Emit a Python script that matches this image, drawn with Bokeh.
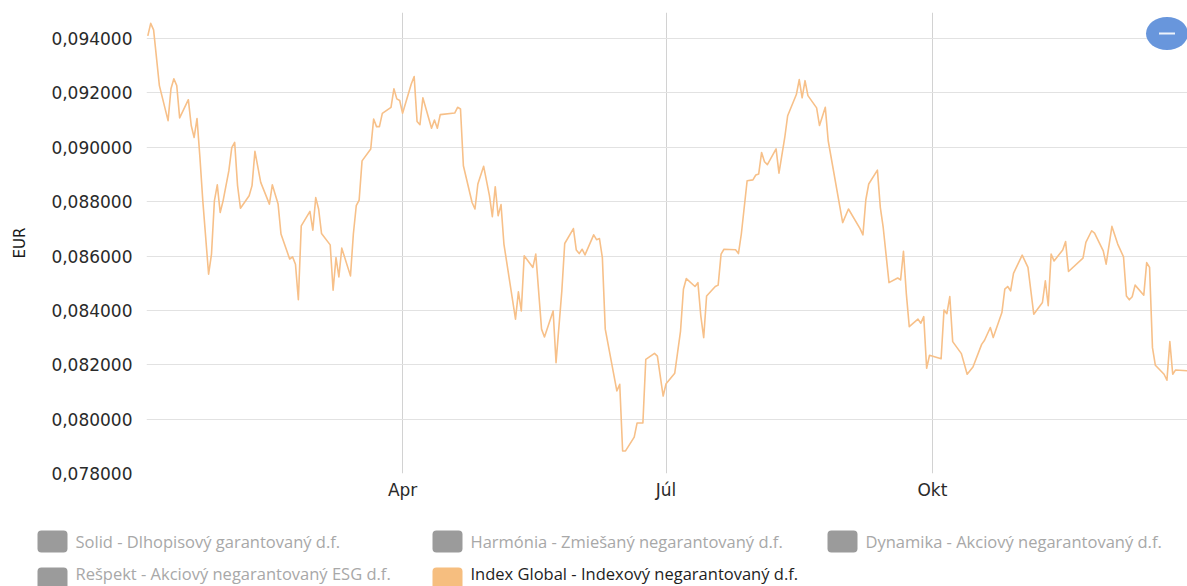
import pandas as pd
from bokeh.plotting import figure
from bokeh.models import Range1d, FixedTicker, CustomJSTickFormatter
from bokeh.core.properties import value
from bokeh.embed import file_html
from bokeh.resources import INLINE

# ---------------- data ----------------
YEAR_START = "2022-01-01"

day_offsets = [2, 3, 4, 6, 9, 10, 11, 12, 13, 16, 17, 18, 19, 20, 21, 23, 24, 25, 26, 27, 28,
               30, 31, 32, 33, 34, 37, 38, 39, 41, 44, 45, 47, 48, 51, 52, 53, 54, 55, 58, 59,
               60, 61, 62, 65, 66, 67, 68, 69, 72, 73, 74, 75, 76, 79, 80, 81, 82, 83, 86, 87,
               88, 89, 90, 93, 94, 95, 96, 97, 100, 101, 102, 103, 108, 109, 110, 111, 114, 115,
               116, 118, 120, 121, 122, 123, 124, 125, 129, 130, 131, 132, 135, 136, 138, 139,
               142, 143, 145, 146, 149, 150, 151, 152, 153, 156, 157, 158, 159, 160, 164, 165,
               166, 167, 170, 171, 173, 174, 177, 178, 180, 181, 184, 186, 187, 188, 191, 192,
               193, 194, 195, 198, 199, 200, 201, 205, 206, 207, 209, 211, 212, 213, 214, 215,
               216, 219, 220, 222, 223, 226, 227, 228, 229, 230, 233, 234, 236, 237, 242, 244,
               248, 249, 250, 251, 254, 255, 256, 258, 261, 262, 263, 264, 265, 268, 269, 270,
               271, 272, 276, 277, 278, 279, 280, 283, 285, 287, 290, 291, 293, 294, 297, 298,
               299, 300, 301, 304, 306, 308, 311, 312, 313, 314, 315, 318, 319, 320, 325, 326,
               328, 329, 332, 333, 335, 337, 339, 340, 341, 342, 343, 346, 347, 348, 349, 350,
               353, 354, 355, 356, 357, 361]

index_global = [0.0941, 0.09456, 0.09432, 0.09227, 0.09098, 0.09215, 0.09252, 0.09227, 0.09108,
                0.09175, 0.0908, 0.09036, 0.09106, 0.08963, 0.08803, 0.08533, 0.08607, 0.08803,
                0.08862, 0.0876, 0.08803, 0.08914, 0.08999, 0.09018, 0.08859, 0.08776, 0.08822,
                0.08859, 0.08985, 0.08871, 0.08791, 0.08862, 0.08791, 0.08681, 0.08589, 0.08597,
                0.0857, 0.08439, 0.08711, 0.08764, 0.08695, 0.08815, 0.08773, 0.08683, 0.08641,
                0.08474, 0.08594, 0.08523, 0.08629, 0.08527, 0.08681, 0.08785, 0.08806, 0.0895,
                0.08994, 0.09104, 0.09076, 0.09076, 0.09125, 0.09147, 0.09215, 0.09178, 0.09172,
                0.09125, 0.09233, 0.0926, 0.09095, 0.09083, 0.09182, 0.0907, 0.091, 0.0907,
                0.0912, 0.09126, 0.09147, 0.09141, 0.08932, 0.08797, 0.08773, 0.08865, 0.0893,
                0.08822, 0.08745, 0.08855, 0.08748, 0.08789, 0.08644, 0.08368, 0.08468, 0.08398,
                0.08601, 0.08558, 0.08607, 0.08331, 0.08302, 0.08398, 0.08208, 0.08472, 0.08646,
                0.08701, 0.08622, 0.08609, 0.08625, 0.08604, 0.08678, 0.0866, 0.08664, 0.08594,
                0.08331, 0.08104, 0.08128, 0.07883, 0.07883, 0.07934, 0.07986, 0.07986, 0.0822,
                0.08242, 0.08232, 0.08085, 0.0813, 0.08169, 0.08324, 0.08478, 0.08517, 0.08488,
                0.08502, 0.0838, 0.083, 0.08453, 0.08488, 0.08493, 0.08607, 0.08625, 0.08623,
                0.08609, 0.08681, 0.08877, 0.0888, 0.08898, 0.08902, 0.08981, 0.08947, 0.08936,
                0.08994, 0.08905, 0.09036, 0.09116, 0.09194, 0.09249, 0.09182, 0.09245, 0.0919,
                0.09145, 0.0908, 0.09147, 0.09024, 0.08723, 0.08773, 0.08701, 0.08678, 0.08807,
                0.08865, 0.08916, 0.08779, 0.08705, 0.08502, 0.08519, 0.08512, 0.08617, 0.0846,
                0.0834, 0.08368, 0.08353, 0.08377, 0.08187, 0.08235, 0.08222, 0.08401, 0.08388,
                0.08451, 0.08285, 0.08241, 0.08165, 0.08192, 0.08275, 0.0829, 0.08337, 0.083,
                0.08392, 0.08478, 0.08488, 0.08472, 0.08536, 0.08603, 0.08558, 0.08386, 0.08429,
                0.08509, 0.08417, 0.08607, 0.08582, 0.08622, 0.08653, 0.08543, 0.08592, 0.0865,
                0.08693, 0.08684, 0.08619, 0.0857, 0.08709, 0.08644, 0.08597, 0.08453, 0.08439,
                0.0845, 0.08493, 0.08456, 0.08576, 0.08558, 0.08263, 0.08198, 0.08165, 0.08143,
                0.08285, 0.08165, 0.08181, 0.08178]

y_ticks = [0.078, 0.080, 0.082, 0.084, 0.086, 0.088, 0.090, 0.092, 0.094]
x_tick_dates = ["2022-04-01", "2022-07-01", "2022-10-01"]
month_labels = ["Jan", "Feb", "Mar", "Apr", "Máj", "Jún", "Júl", "Aug", "Sep", "Okt", "Nov", "Dec"]

series_names = ["Solid - Dlhopisový garantovaný d.f.",
                "Harmónia - Zmiešaný negarantovaný d.f.",
                "Dynamika - Akciový negarantovaný d.f.",
                "Rešpekt - Akciový negarantovaný ESG d.f.",
                "Index Global - Indexový negarantovaný d.f."]
series_active = [False, False, False, False, True]

# ---------------- styles ----------------
LINE_COLOR = "#f7c089"
SWATCH_ACTIVE = "#f6be7f"
SWATCH_INACTIVE = "#9b9b9b"
TEXT_ACTIVE = "#1e1e1e"
TEXT_INACTIVE = "#a8a8a8"

DAY_MS = 86400000.0


def ms(ts):
    return pd.Timestamp(ts).value / 1e6


dates = pd.Timestamp(YEAR_START) + pd.to_timedelta(day_offsets, unit="D")

x_start = ms(YEAR_START) + 1.55 * DAY_MS
x_end = ms(YEAR_START) + 361.1 * DAY_MS
y_start, y_end = 0.078, 0.094958

FRAME_W, FRAME_H = 1041, 461

p = figure(width=1187, height=513, x_axis_type="datetime",
           x_range=Range1d(x_start, x_end), y_range=Range1d(y_start, y_end),
           output_backend="svg", toolbar_location=None,
           min_border_left=146, min_border_right=0, min_border_top=12, min_border_bottom=40)
p.outline_line_color = None
p.background_fill_color = "white"
p.border_fill_color = "white"

p.line(dates, index_global, line_color=LINE_COLOR, line_width=1.6, line_join="round")

# y axis
yt = FixedTicker(ticks=y_ticks)
p.yaxis.ticker = yt
p.ygrid.ticker = yt
p.yaxis.formatter = CustomJSTickFormatter(code="return tick.toFixed(6).replace('.', ',');")
p.yaxis.axis_label = "EUR"
p.yaxis.axis_label_text_font = "DejaVu Sans"
p.yaxis.axis_label_text_font_style = "normal"
p.yaxis.axis_label_text_font_size = "15px"
p.yaxis.axis_label_text_color = "#1a1a1a"
p.yaxis.axis_label_standoff = 19
p.yaxis.major_label_standoff = 14

# x axis
xt = FixedTicker(ticks=[ms(d) for d in x_tick_dates])
p.xaxis.ticker = xt
p.xgrid.ticker = xt
p.xaxis.formatter = CustomJSTickFormatter(
    args=dict(names=month_labels),
    code="return names[new Date(tick).getUTCMonth()];")
p.xaxis.major_label_standoff = 6

for ax in (p.xaxis, p.yaxis):
    ax.axis_line_color = None
    ax.major_tick_line_color = None
    ax.minor_tick_line_color = None
    ax.major_tick_out = 0
    ax.major_tick_in = 0
    ax.minor_tick_out = 0
    ax.major_label_text_font = "DejaVu Sans"
    ax.major_label_text_font_size = "17px"
    ax.major_label_text_color = "#2a2a2a"

p.xgrid.grid_line_color = "#d2d2d2"
p.xgrid.grid_line_width = 1
p.ygrid.grid_line_color = "#e2e2e2"
p.ygrid.grid_line_width = 1.2

# collapse button (top right of the chart)
btn_x = x_end - 20.5 * (x_end - x_start) / FRAME_W
btn_y = y_end - 21 * (y_end - y_start) / FRAME_H
p.ellipse(x=[btn_x], y=[btn_y], width=42, height=33, width_units="screen",
          height_units="screen", fill_color="#6896dc", line_color=None)
p.scatter(x=[btn_x], y=[btn_y], marker="dash", size=16, line_color="#eef3fb",
          line_width=2)

# ---------------- legend (separate root, page coordinates) ----------------
LG_TOP = 513
LG_H = 73
lg = figure(width=1187, height=LG_H, x_range=Range1d(0, 1187), y_range=Range1d(LG_H, 0),
            output_backend="svg", toolbar_location=None, min_border=0,
            x_axis_location=None, y_axis_location=None)
lg.outline_line_color = None
lg.grid.visible = False

lefts, tops, fills, txt_x, txt_y, txt_c = [], [], [], [], [], []
for i, name in enumerate(series_names):
    col_i, row_i = i % 3, i // 3
    left = 37 + 395 * col_i
    top = 530 - LG_TOP + 37 * row_i
    lefts.append(left)
    tops.append(top)
    fills.append(SWATCH_ACTIVE if series_active[i] else SWATCH_INACTIVE)
    txt_x.append(left + 38)
    txt_y.append(top + 11 - 5 * row_i)
    txt_c.append(TEXT_ACTIVE if series_active[i] else TEXT_INACTIVE)

lg.quad(left=lefts, right=[l + 30 for l in lefts], top=tops, bottom=[t + 22 for t in tops],
        fill_color=fills, line_color=None, border_radius=4)
lg.text(x=txt_x, y=txt_y, text=series_names, text_color=txt_c,
        text_font=value("Open Sans"), text_font_size="16.5px", text_baseline="middle",
        text_align="left")

open("out.html", "w").write(file_html([p, lg], INLINE))
